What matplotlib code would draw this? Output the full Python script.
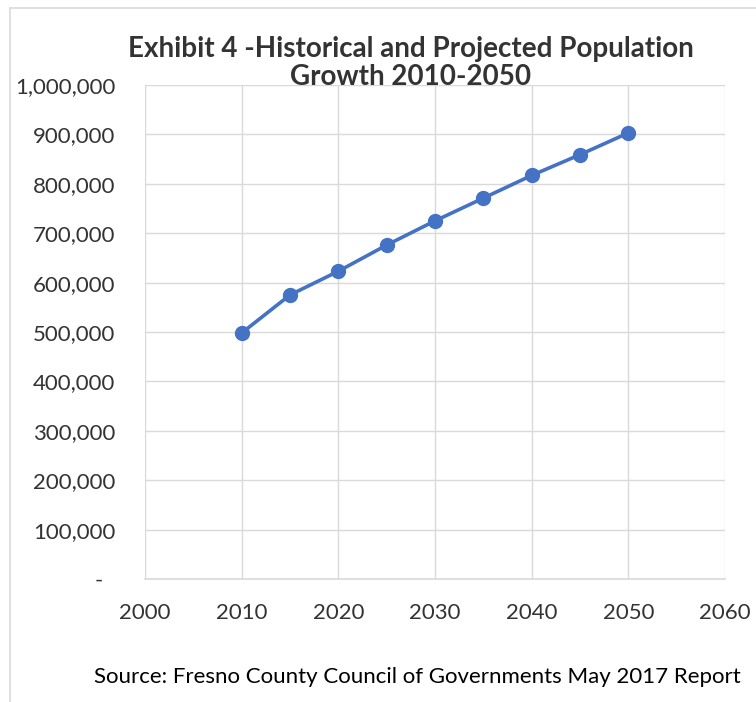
import matplotlib.pyplot as plt
from matplotlib.lines import Line2D
from matplotlib.ticker import FuncFormatter

plt.rcParams["font.family"] = ["Lato", "DejaVu Sans"]

years = [2010, 2015, 2020, 2025, 2030, 2035, 2040, 2045, 2050]
population = [498000, 575000, 623000, 676000, 725000, 771000, 817000, 859000, 903000]
x_ticks = [2000, 2010, 2020, 2030, 2040, 2050, 2060]
y_ticks = [0, 100000, 200000, 300000, 400000, 500000, 600000, 700000, 800000, 900000, 1000000]

BLUE = "#4472C4"
GRID = "#D9D9D9"
TXT = "#333333"

fig = plt.figure(figsize=(7.56, 7.02), dpi=100)
ax = fig.add_axes([145 / 756, 1 - 579 / 702, 580 / 756, 494 / 702])

ax.plot(years, population, color=BLUE, lw=2.6, marker="o", ms=10, zorder=3, clip_on=False)

ax.set_xlim(2000, 2060)
ax.set_ylim(0, 1000000)
ax.set_xticks(x_ticks)
ax.set_yticks(y_ticks)
ax.yaxis.set_major_formatter(FuncFormatter(lambda v, p: "-\u00a0\u00a0" if v == 0 else f"{int(v):,}"))
ax.grid(True, color=GRID, lw=1.0)
ax.set_axisbelow(True)
for s in ["left", "right", "top"]:
    ax.spines[s].set_visible(False)
ax.spines["bottom"].set_color(GRID)
ax.spines["bottom"].set_linewidth(1.2)
ax.tick_params(length=0, labelsize=16, labelcolor=TXT)
ax.tick_params(axis="x", pad=17)
ax.tick_params(axis="y", pad=21.5)

fig.text(0.543, 1 - 63 / 702, "Exhibit 4 -Historical and Projected Population\nGrowth 2010-2050",
         ha="center", va="center", fontsize=20, fontweight="bold", color=TXT, linespacing=1.08)
fig.text(417 / 756, 1 - 677 / 702, "Source: Fresno County Council of Governments May 2017 Report",
         ha="center", va="center", fontsize=16, color="black")

# outer chart frame (top and left edges visible)
fig.add_artist(Line2D([10 / 756, 1], [1 - 8 / 702, 1 - 8 / 702], transform=fig.transFigure, color=GRID, lw=1.2))
fig.add_artist(Line2D([10 / 756, 10 / 756], [0, 1 - 8 / 702], transform=fig.transFigure, color=GRID, lw=1.2))

fig.savefig("out.png", dpi=100)
